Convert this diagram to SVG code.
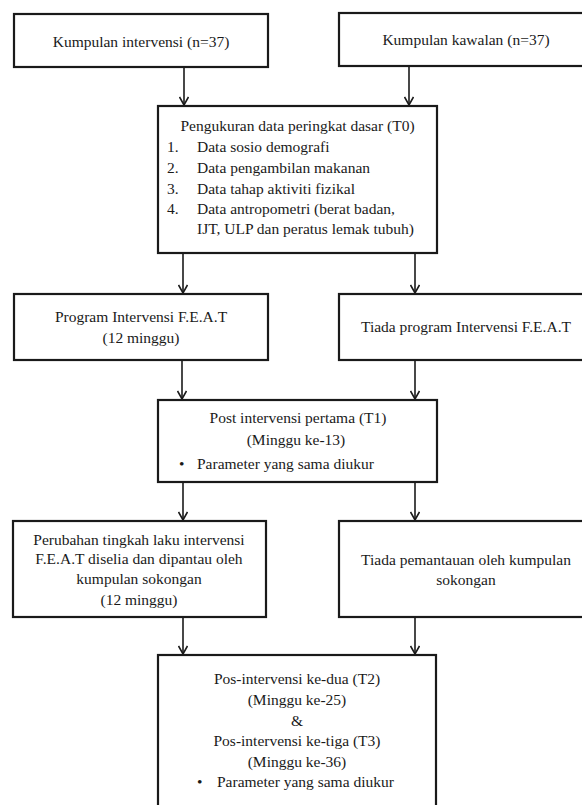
<svg xmlns="http://www.w3.org/2000/svg" width="582" height="805" viewBox="0 0 582 805">
<defs>
<style>
.box{fill:#fff;stroke:#1a1a1a;stroke-width:2.2}
.t{font-size:15.5px;fill:#1a1a1a}
.c{text-anchor:middle}
.conn{stroke:#1a1a1a;stroke-width:1.6;fill:none}
</style>
<marker id="arr" viewBox="0 0 10 10" refX="9" refY="5" markerWidth="10" markerHeight="10" markerUnits="userSpaceOnUse" orient="auto">
<path d="M1,0.5 L9,5 L1,9.5" fill="none" stroke="#1a1a1a" stroke-width="1.6"/>
</marker>
</defs>
<rect width="582" height="805" fill="#fff"/>
<g id="connectors">
<line class="conn" x1="184" y1="67" x2="184" y2="105" marker-end="url(#arr)"/>
<line class="conn" x1="409" y1="66" x2="409" y2="105" marker-end="url(#arr)"/>
<line class="conn" x1="183" y1="253" x2="183" y2="293" marker-end="url(#arr)"/>
<line class="conn" x1="415" y1="253" x2="415" y2="293" marker-end="url(#arr)"/>
<line class="conn" x1="182" y1="360" x2="182" y2="399" marker-end="url(#arr)"/>
<line class="conn" x1="415" y1="360" x2="415" y2="399" marker-end="url(#arr)"/>
<line class="conn" x1="183" y1="482" x2="183" y2="520" marker-end="url(#arr)"/>
<line class="conn" x1="415" y1="483" x2="415" y2="520" marker-end="url(#arr)"/>
<line class="conn" x1="183" y1="617" x2="183" y2="654" marker-end="url(#arr)"/>
<line class="conn" x1="415" y1="617" x2="415" y2="654" marker-end="url(#arr)"/>
</g>
<g font-family="Liberation Serif, Tinos, Times New Roman, serif">
<g id="n1">
<rect class="box" x="14" y="14" width="254" height="53"/>
<text class="t c" x="141" y="47">Kumpulan intervensi (n=37)</text>
</g>
<g id="n2">
<rect class="box" x="339" y="13" width="256" height="53"/>
<text class="t c" x="466" y="45">Kumpulan kawalan (n=37)</text>
</g>
<g id="n3">
<rect class="box" x="158" y="106" width="279" height="147"/>
<text class="t c" x="297.5" y="131">Pengukuran data peringkat dasar (T0)</text>
<text class="t" x="167" y="152">1.</text><text class="t" x="197" y="152">Data sosio demografi</text>
<text class="t" x="167" y="173">2.</text><text class="t" x="197" y="173">Data pengambilan makanan</text>
<text class="t" x="167" y="194">3.</text><text class="t" x="197" y="194">Data tahap aktiviti fizikal</text>
<text class="t" x="167" y="214">4.</text><text class="t" x="197" y="214">Data antropometri (berat badan,</text>
<text class="t" x="197" y="234">IJT, ULP dan peratus lemak tubuh)</text>
</g>
<g id="n4">
<rect class="box" x="14" y="294" width="254" height="66"/>
<text class="t c" x="141" y="322">Program Intervensi F.E.A.T</text>
<text class="t c" x="141" y="343">(12 minggu)</text>
</g>
<g id="n5">
<rect class="box" x="339" y="294" width="256" height="66"/>
<text class="t c" x="466" y="332">Tiada program Intervensi F.E.A.T</text>
</g>
<g id="n6">
<rect class="box" x="158" y="400" width="279" height="82"/>
<text class="t c" x="298" y="423">Post intervensi pertama (T1)</text>
<text class="t c" x="296" y="445">(Minggu ke-13)</text>
<text class="t" x="179" y="469">•</text><text class="t" x="197" y="469">Parameter yang sama diukur</text>
</g>
<g id="n7">
<rect class="box" x="13" y="521" width="253" height="96"/>
<text class="t c" x="139" y="545">Perubahan tingkah laku intervensi</text>
<text class="t c" x="139" y="564">F.E.A.T diselia dan dipantau oleh</text>
<text class="t c" x="139" y="584">kumpulan sokongan</text>
<text class="t c" x="139" y="605">(12 minggu)</text>
</g>
<g id="n8">
<rect class="box" x="339" y="521" width="256" height="96"/>
<text class="t c" x="466" y="565">Tiada pemantauan oleh kumpulan</text>
<text class="t c" x="466" y="585">sokongan</text>
</g>
<g id="n9">
<rect class="box" x="158" y="655" width="278" height="170"/>
<text class="t c" x="297" y="684">Pos-intervensi ke-dua (T2)</text>
<text class="t c" x="297" y="705">(Minggu ke-25)</text>
<text class="t c" x="297" y="726">&amp;</text>
<text class="t c" x="297" y="746">Pos-intervensi ke-tiga (T3)</text>
<text class="t c" x="297" y="767">(Minggu ke-36)</text>
<text class="t" x="197" y="787">•</text><text class="t" x="217" y="787">Parameter yang sama diukur</text>
</g>
</g>
</svg>
